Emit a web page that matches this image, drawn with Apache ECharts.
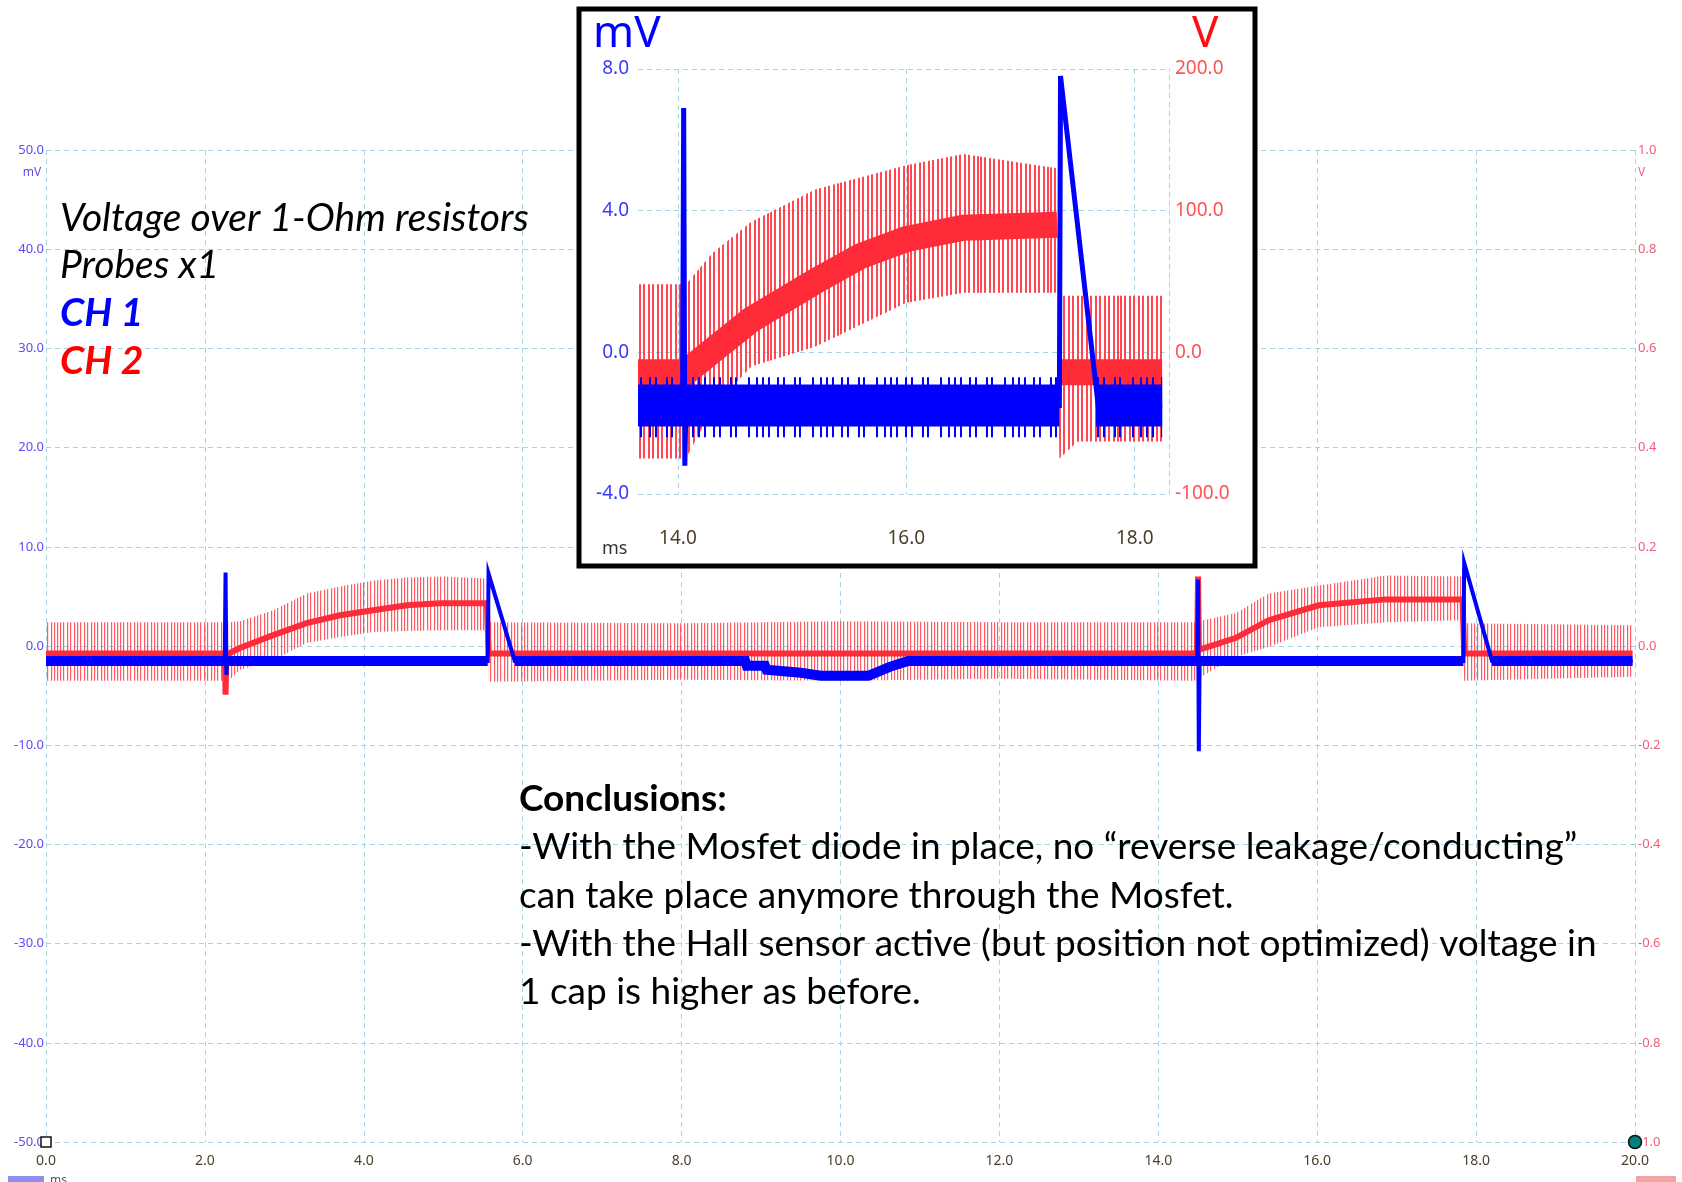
<!DOCTYPE html>
<html>
<head>
<meta charset="utf-8">
<script src="https://cdn.jsdelivr.net/npm/echarts@6/dist/echarts.min.js"></script>
<style>
  html, body { margin: 0; padding: 0; background: #fff; }
  #chart { width: 1682px; height: 1182px; }
</style>
</head>
<body>
<div id="chart"></div>
<script>
// ---- main view, 0..20 ms ----
// CH1 (blue, mV) thin trace incl. spikes and the two flyback peaks
const ch1Time = [0, 2.25, 2.26, 2.27, 2.28, 5.56, 5.57, 5.9, 8.8, 8.82, 9.07, 9.5, 9.75, 10.35, 10.62, 10.85, 14.49, 14.5, 14.51, 14.52, 17.84, 17.85, 18.2, 19.97];
const ch1Mv   = [-1.5, -1.5, 7.4, -2.9, -1.5, -1.5, 7.3, -1.5, -1.5, -2.0, -2.3, -2.7, -3.0, -3.0, -2.1, -1.5, -1.5, 6.7, -10.6, -1.5, -1.5, 8.4, -1.5, -1.5];
// CH1 thick noise band (null = gap)
const ch1BandTime = [0, 5.56, null, 5.9, 8.8, 8.82, 9.05, 9.07, 9.5, 9.75, 10.35, 10.62, 10.85, 17.84, null, 18.2, 19.97];
const ch1BandMv   = [-1.5, -1.5, null, -1.5, -1.5, -2.0, -2.0, -2.4, -2.7, -3.0, -3.0, -2.1, -1.5, -1.5, null, -1.5, -1.5];

// CH2 (red, V) centre trace
const ch2Time = [0, 2.25, 2.26, 2.27, 2.3, 2.44, 2.86, 3.28, 3.7, 4.12, 4.54, 4.96, 5.55, 5.57, 14.45, 14.49, 14.5, 14.51, 14.97, 15.39, 16.02, 16.86, 17.83, 17.85, 19.97];
const ch2V    = [-0.015, -0.015, -0.098, -0.015, -0.015, -0.004, 0.022, 0.046, 0.062, 0.072, 0.082, 0.086, 0.086, -0.015, -0.015, -0.01, 0.14, -0.008, 0.016, 0.052, 0.082, 0.094, 0.094, -0.015, -0.015];
// CH2 spike envelope
const ch2EnvTime = [0, 2.3, 2.44, 2.86, 3.28, 3.7, 4.12, 4.54, 5.0, 5.55, 5.57, 8.0, 10.0, 12.0, 14.45, 14.97, 15.39, 16.02, 16.86, 17.83, 17.85, 19.97];
const ch2EnvHigh = [0.048, 0.048, 0.05, 0.072, 0.106, 0.12, 0.132, 0.138, 0.14, 0.136, 0.048, 0.046, 0.05, 0.048, 0.048, 0.066, 0.106, 0.122, 0.142, 0.14, 0.046, 0.042];
const ch2EnvLow  = [-0.07, -0.07, -0.048, -0.028, 0.006, 0.018, 0.028, 0.03, 0.032, 0.032, -0.072, -0.068, -0.07, -0.066, -0.07, -0.022, -0.002, 0.038, 0.048, 0.052, -0.07, -0.062];

// ---- zoomed inset, 13.65..18.3 ms ----
const inTicks = [14, 16, 18];
const in1Time = [13.65, 14.04, 14.05, 14.06, 14.07, 17.34, 17.35, 17.68, 18.24];
const in1Mv   = [-1.5, -1.5, 6.9, -3.2, -1.5, -1.5, 7.8, -1.5, -1.5];
const in1BandTime = [13.65, 17.34, null, 17.66, 18.24];
const in1BandMv   = [-1.5, -1.5, null, -1.5, -1.5];
const in1EnvTime = [13.65, 17.34, null, 17.66, 18.24];
const in1EnvHigh = [-0.7, -0.7, null, -0.7, -0.7];
const in1EnvLow  = [-2.4, -2.4, null, -2.4, -2.4];

const in2Time = [13.65, 14.07, 14.3, 14.64, 15.2, 15.6, 16.0, 16.5, 17.32, null, 17.34, 18.24];
const in2V    = [-14, -14, 1, 23, 50, 68, 80, 88, 90, null, -14, -14];
const in2EnvTime = [13.65, 14.07, 14.3, 14.64, 15.2, 16.0, 16.5, 17.32, 17.34, 17.5, 18.24];
const in2EnvHigh = [48, 48, 70, 92, 115, 132, 140, 130, 40, 40, 40];
const in2EnvLow  = [-75, -75, -40, -10, 4, 35, 42, 42, -75, -63, -63];

const textLeft = ['Voltage over 1-Ohm resistors', 'Probes x1', 'CH 1', 'CH 2'];
const textConcl = [
  'Conclusions:',
  '-With the Mosfet diode in place, no \u201creverse leakage/conducting\u201d',
  'can take place anymore through the Mosfet.',
  '-With the Hall sensor active (but position not optimized) voltage in',
  '1 cap is higher as before.'
];

const GRID = '#a9d4e4';
const BLUE = '#0000ff';
const RED = '#ff2b38';

function zip(xs, ys) {
  return xs.map((x, i) => (x == null ? [ (xs[i - 1] + xs[i + 1]) / 2, '-' ] : [x, ys[i]]));
}

function stripes(color, w, xs, lw) {
  const c = document.createElement('canvas');
  c.width = w; c.height = 8;
  const g = c.getContext('2d');
  g.fillStyle = color;
  xs.forEach(x => g.fillRect(x, 0, lw, 8));
  return { image: c, repeat: 'repeat' };
}

function band(xi, yi, times, highs, lows, fill, z) {
  return {
    type: 'custom', xAxisIndex: xi, yAxisIndex: yi, z: z, silent: true,
    data: times.map((t, i) => [t, highs[i], lows[i]]).filter(d => d[0] != null),
    encode: { x: 0, y: [1, 2] },
    renderItem: function (params, api) {
      if (params.dataIndex !== 0) return { type: 'group', children: [] };
      const children = [];
      let seg = [];
      const flush = () => {
        if (seg.length > 1) {
          const top = seg.map(i => api.coord([times[i], highs[i]]));
          const bot = seg.slice().reverse().map(i => api.coord([times[i], lows[i]]));
          children.push({ type: 'polygon', shape: { points: top.concat(bot) }, style: { fill: fill } });
        }
        seg = [];
      };
      times.forEach((t, i) => { if (t == null) flush(); else seg.push(i); });
      flush();
      return { type: 'group', children: children };
    }
  };
}

function line(xi, yi, data, width, color, z, extra) {
  return Object.assign({
    type: 'line', xAxisIndex: xi, yAxisIndex: yi, data: data, z: z,
    symbol: 'none', silent: true, connectNulls: false,
    lineStyle: { width: width, color: color, cap: 'butt', join: 'miter' }
  }, extra || {});
}

const redMain = stripes('rgba(255,60,72,0.85)', 60, [0, 3, 7, 10, 14, 17, 20, 24, 27, 31, 34, 37, 41, 44, 47, 51, 54, 57], 1.2);
const redInset = stripes('rgba(255,50,62,0.9)', 70, [0, 4, 9, 13, 18, 22, 27, 31, 36, 40, 45, 49, 54, 58, 63, 67], 2);
const blueInset = stripes(BLUE, 64, [0, 9, 15, 26, 31, 44, 52, 58], 2);

const labelFont = 'Noto Sans';
const chart = echarts.init(document.getElementById('chart'));

const dashed = { show: true, lineStyle: { color: GRID, type: [5, 4], width: 1 } };

const option = {
  animation: false,
  backgroundColor: '#fff',
  grid: [
    { left: 46, right: 47, top: 150, bottom: 40 },
    { left: 638, top: 69, width: 531, height: 425, z: 20 }
  ],
  xAxis: [
    {
      gridIndex: 0, type: 'value', min: 0, max: 20, interval: 2,
      axisLine: { show: false }, axisTick: { show: false }, splitLine: dashed,
      axisLabel: { margin: 12, color: '#4d3f2a', fontSize: 14, fontFamily: labelFont, formatter: v => v.toFixed(1) }
    },
    {
      gridIndex: 1, type: 'value', min: 13.65, max: 18.3, z: 20,
      axisLine: { show: false },
      axisTick: { show: false, customValues: inTicks },
      splitLine: dashed,
      axisLabel: { customValues: inTicks, margin: 35, color: '#4d3f2a', fontSize: 19, fontFamily: labelFont, formatter: v => v.toFixed(1) }
    }
  ],
  yAxis: [
    {
      gridIndex: 0, type: 'value', min: -50, max: 50, interval: 10,
      axisLine: { show: false }, axisTick: { show: false }, splitLine: dashed,
      axisLabel: { margin: 2, color: '#5b4cf0', fontSize: 13, fontFamily: labelFont, formatter: v => v.toFixed(1) }
    },
    {
      gridIndex: 0, type: 'value', min: -1, max: 1, interval: 0.2, position: 'right',
      axisLine: { show: false }, axisTick: { show: false }, splitLine: { show: false },
      axisLabel: { margin: 3, color: '#f25c78', fontSize: 13, fontFamily: labelFont, formatter: v => v.toFixed(1) }
    },
    {
      gridIndex: 1, type: 'value', min: -4, max: 8, interval: 4, z: 20,
      axisLine: { show: false }, axisTick: { show: false }, splitLine: dashed,
      axisLabel: { margin: 9, color: '#3a3aff', fontSize: 19, fontFamily: labelFont, formatter: v => v.toFixed(1) }
    },
    {
      gridIndex: 1, type: 'value', min: -100, max: 200, interval: 100, position: 'right', z: 20,
      axisLine: { show: true, lineStyle: { color: GRID, type: [5, 4], width: 1 } },
      axisTick: { show: false }, splitLine: { show: false },
      axisLabel: { margin: 6, color: '#ff5252', fontSize: 19, fontFamily: labelFont, formatter: v => v.toFixed(1) }
    }
  ],
  series: [
    // main chart
    band(0, 1, ch2EnvTime, ch2EnvHigh, ch2EnvLow, redMain, 2),
    line(0, 1, zip(ch2Time, ch2V), 6, RED, 3),
    line(0, 0, zip(ch1BandTime, ch1BandMv), 10, BLUE, 4),
    line(0, 0, zip(ch1Time, ch1Mv), 4, BLUE, 5, {
      markPoint: {
        silent: true, label: { show: false },
        data: [
          { coord: [0, -50], symbol: 'rect', symbolSize: 10, itemStyle: { color: '#fff', borderColor: '#111', borderWidth: 1.5 } },
          { coord: [20, -50], symbol: 'circle', symbolSize: 13, itemStyle: { color: '#00807a', borderColor: '#111', borderWidth: 1.5 } }
        ]
      }
    }),
    // inset
    band(1, 3, in2EnvTime, in2EnvHigh, in2EnvLow, redInset, 21),
    line(1, 3, zip(in2Time, in2V), 26, RED, 22),
    band(1, 2, in1EnvTime, in1EnvHigh, in1EnvLow, blueInset, 23),
    line(1, 2, zip(in1BandTime, in1BandMv), 42, BLUE, 24),
    line(1, 2, zip(in1Time, in1Mv), 5, BLUE, 25)
  ],
  graphic: [
    { type: 'rect', z: 10, shape: { x: 579, y: 9, width: 676, height: 557 }, style: { fill: '#fff' } },
    { type: 'rect', z: 60, shape: { x: 579, y: 9, width: 676, height: 557 }, style: { fill: null, stroke: '#000', lineWidth: 5 } },
    { type: 'text', z: 61, style: { x: 593, y: 34, text: 'mV', font: '44px "Noto Sans"', fill: BLUE, textVerticalAlign: 'middle' } },
    { type: 'text', z: 61, style: { x: 1192, y: 34, text: 'V', font: '44px "Noto Sans"', fill: '#ff1010', textVerticalAlign: 'middle' } },
    { type: 'text', z: 61, style: { x: 602, y: 549, text: 'ms', font: '18px "Noto Sans"', fill: '#333', textVerticalAlign: 'middle' } },
    { type: 'text', z: 5, style: { x: 32, y: 173, text: 'mV', font: '12px "Noto Sans"', fill: '#5b4cf0', textAlign: 'center', textVerticalAlign: 'middle' } },
    { type: 'text', z: 5, style: { x: 1638, y: 173, text: 'V', font: '12px "Noto Sans"', fill: '#f25c78', textVerticalAlign: 'middle' } },
    { type: 'rect', z: 5, shape: { x: 8, y: 1176, width: 36, height: 8 }, style: { fill: '#8f8ff2' } },
    { type: 'text', z: 5, style: { x: 50, y: 1181, text: 'ms', font: '12px "Noto Sans"', fill: '#555', textVerticalAlign: 'middle' } },
    { type: 'rect', z: 5, shape: { x: 1636, y: 1176, width: 40, height: 8 }, style: { fill: '#f4a3a3' } },
    { type: 'text', z: 30, style: { x: 60, y: 218, text: textLeft[0], font: 'italic 39px Lato', fill: '#000', textVerticalAlign: 'middle' } },
    { type: 'text', z: 30, style: { x: 60, y: 265, text: textLeft[1], font: 'italic 39px Lato', fill: '#000', textVerticalAlign: 'middle' } },
    { type: 'text', z: 30, style: { x: 60, y: 313, text: textLeft[2], font: 'italic bold 39px Lato', fill: BLUE, textVerticalAlign: 'middle' } },
    { type: 'text', z: 30, style: { x: 60, y: 361, text: textLeft[3], font: 'italic bold 39px Lato', fill: '#ff0000', textVerticalAlign: 'middle' } }
  ].concat(textConcl.map((t, i) => ({
    type: 'text', z: 30,
    style: { x: 519, y: 799 + i * 48.3, text: t, font: (i === 0 ? 'bold ' : '') + '37px Lato', fill: '#000', textVerticalAlign: 'middle' }
  })))
};

chart.setOption(option);
</script>
</body>
</html>
